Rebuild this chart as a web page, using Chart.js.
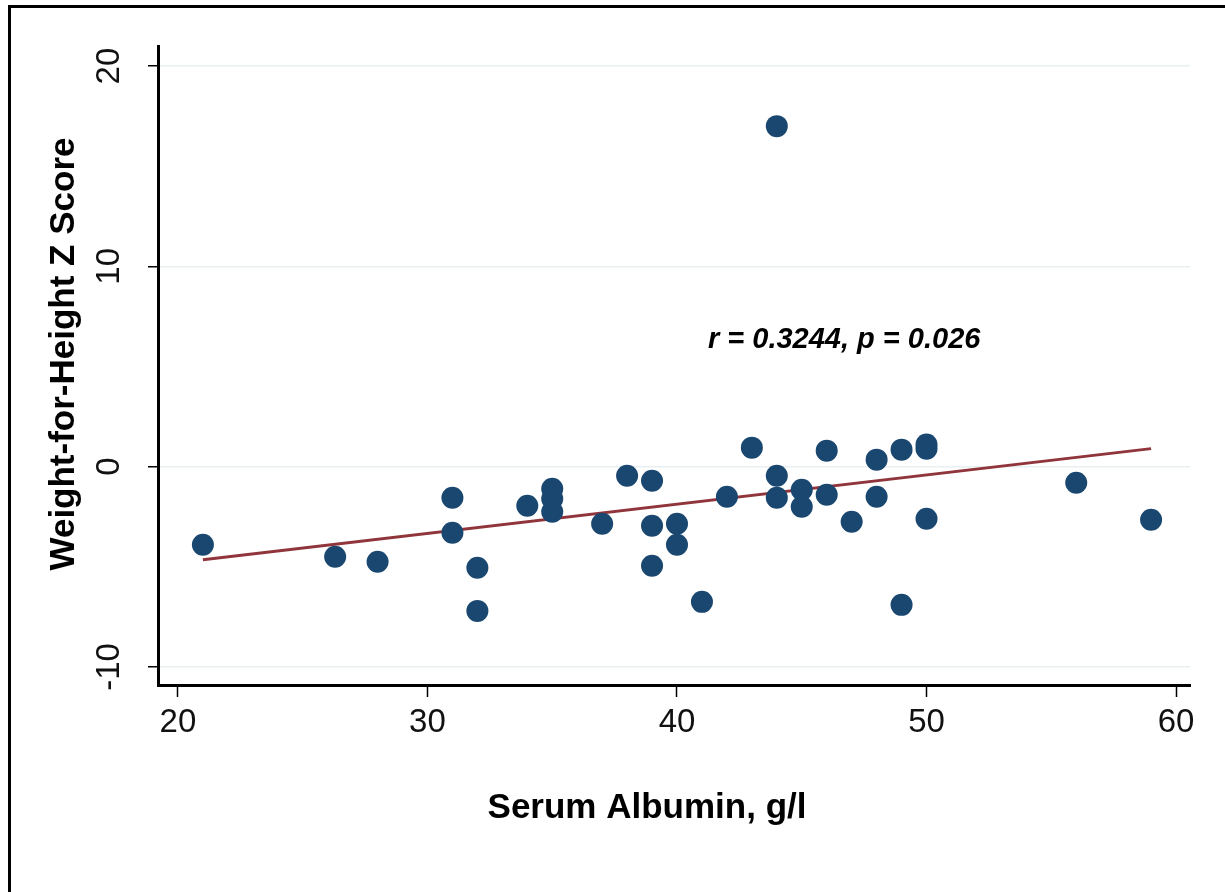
<!DOCTYPE html>
<html>
<head>
<meta charset="utf-8">
<script src="https://cdn.jsdelivr.net/npm/chart.js@4/dist/chart.umd.min.js"></script>
<style>
  html, body { margin: 0; padding: 0; background: #fff; }
  #wrap { position: relative; width: 1225px; height: 892px; overflow: hidden; }
  #frame { position: absolute; left: 8px; top: 5px; width: 1300px; height: 1000px;
           border-left: 3px solid #000; border-top: 3px solid #000; }
  #chart { position: absolute; left: 0; top: 0; }
</style>
</head>
<body>
<div id="wrap">
  <div id="frame"></div>
  <canvas id="chart" width="1225" height="892"></canvas>
</div>
<script>
// Serum albumin (g/l) vs weight-for-height z score
const albumin = [21, 26.3, 28, 31, 31, 32, 32, 34, 35, 35, 35, 37, 38, 39, 39, 39, 40, 40, 41, 42,
                 43, 44, 44, 44, 45, 45, 46, 46, 47, 48, 48, 49, 49, 50, 50, 50, 56, 59];
const whz = [-3.9, -4.5, -4.75, -1.55, -3.3, -5.05, -7.2, -1.95, -1.1, -1.6, -2.25, -2.85, -0.45, -0.7, -2.95, -4.95, -2.85, -3.9, -6.75, -1.5,
             0.95, 17.0, -0.45, -1.55, -1.15, -2.0, 0.8, -1.4, -2.75, 0.35, -1.5, 0.85, -6.9, 0.9, 1.1, -2.6, -0.8, -2.65];

// fitted line end points
const fitX = [21, 59];
const fitY = [-4.65, 0.9];

const xTicks = [20, 30, 40, 50, 60];
const yTicks = [-10, 0, 10, 20];

const xTitle = 'Serum Albumin, g/l';
const yTitle = 'Weight-for-Height Z Score';
const statText = 'r = 0.3244, p = 0.026';
const statPos = [46.7, 6.3];

const FONT = '"Liberation Sans", Arial, sans-serif';

// Draws the y tick labels (rotated), both axis titles and the r/p note
const textPlugin = {
  id: 'textPlugin',
  afterDraw(chart) {
    const ctx = chart.ctx;
    const xs = chart.scales.x;
    const ys = chart.scales.y;
    ctx.save();
    ctx.fillStyle = '#111';
    ctx.textAlign = 'center';
    ctx.textBaseline = 'middle';

    ctx.font = '33px ' + FONT;
    yTicks.forEach(v => {
      ctx.save();
      ctx.translate(110, ys.getPixelForValue(v));
      ctx.rotate(-Math.PI / 2);
      ctx.fillText(String(v), 0, 0);
      ctx.restore();
    });

    ctx.fillStyle = '#000';
    ctx.font = 'bold 35px ' + FONT;
    ctx.fillText(xTitle, 647, 808);

    ctx.save();
    ctx.translate(64, 354);
    ctx.rotate(-Math.PI / 2);
    ctx.fillText(yTitle, 0, 0);
    ctx.restore();

    ctx.font = 'italic bold 29px ' + FONT;
    ctx.fillText(statText, xs.getPixelForValue(statPos[0]), ys.getPixelForValue(statPos[1]));
    ctx.restore();
  }
};

const points = albumin.map((a, i) => ({ x: a, y: whz[i] }));
const fitLine = fitX.map((a, i) => ({ x: a, y: fitY[i] }));

new Chart(document.getElementById('chart'), {
  type: 'scatter',
  data: {
    datasets: [
      {
        type: 'line',
        label: 'Fitted values',
        data: fitLine,
        borderColor: '#90353b',
        borderWidth: 3,
        pointRadius: 0,
        fill: false,
        order: 2
      },
      {
        label: 'WHZ',
        data: points,
        backgroundColor: '#1a476f',
        borderWidth: 0,
        pointRadius: 11,
        pointHoverRadius: 11,
        order: 1
      }
    ]
  },
  options: {
    responsive: false,
    animation: false,
    layout: { padding: { left: 0, top: 46, right: 35, bottom: 0 } },
    plugins: {
      legend: { display: false },
      tooltip: { enabled: false }
    },
    scales: {
      x: {
        type: 'linear',
        min: 19.2,
        max: 60.56,
        afterBuildTicks: scale => { scale.ticks = xTicks.map(v => ({ value: v })); },
        afterFit: scale => { scale.height = 207; },
        border: { display: true, color: '#000', width: 3 },
        grid: { drawOnChartArea: false, drawTicks: true, tickLength: 12, tickColor: '#000', tickWidth: 1.5 },
        ticks: { color: '#111', font: { family: FONT, size: 33 }, padding: 6, maxRotation: 0 }
      },
      y: {
        type: 'linear',
        min: -10.9,
        max: 21.0,
        afterBuildTicks: scale => { scale.ticks = yTicks.map(v => ({ value: v })); },
        afterFit: scale => { scale.width = 158; },
        border: { display: true, color: '#000', width: 3 },
        grid: { color: '#e8f0f1', lineWidth: 1.5, drawTicks: true, tickLength: 10, tickColor: '#000', tickWidth: 1.5 },
        ticks: { display: false }
      }
    }
  },
  plugins: [textPlugin]
});
</script>
</body>
</html>
